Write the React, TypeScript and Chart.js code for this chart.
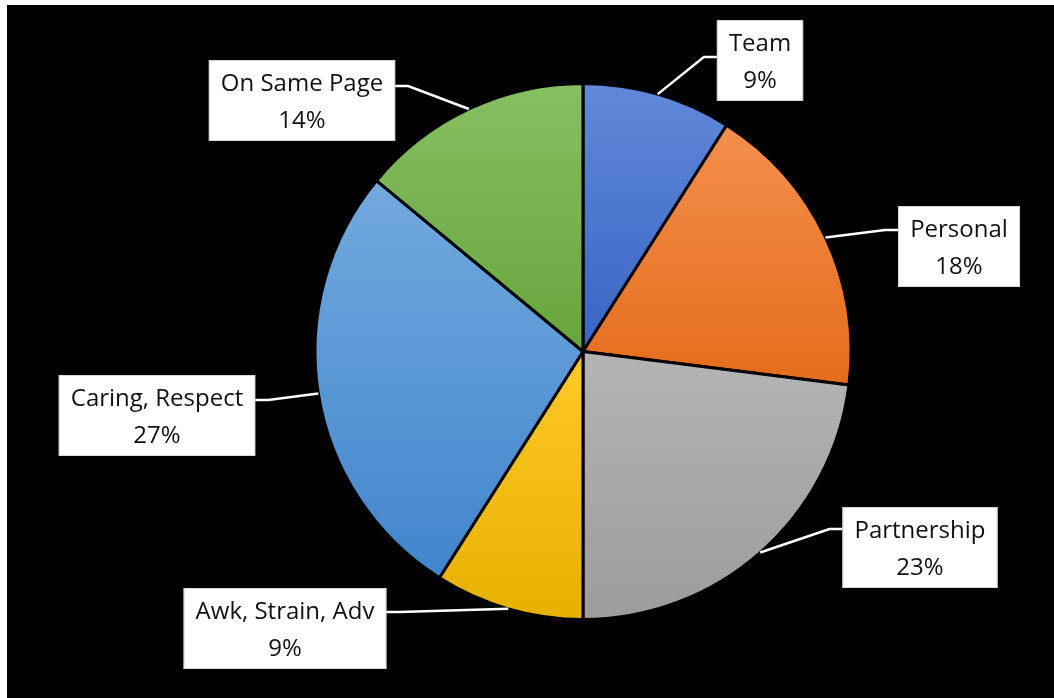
import React, { useEffect, useRef } from "react";
import { Chart, registerables } from "chart.js";

Chart.register(...registerables);

const categories = ["Team", "Personal", "Partnership", "Awk, Strain, Adv", "Caring, Respect", "On Same Page"];
const percentages = [9, 18, 23, 9, 27, 14];
const percentLabels = ["9%", "18%", "23%", "9%", "27%", "14%"];
const colorsTop = ["#6189d9", "#f48f4d", "#b4b4b4", "#ffc928", "#72a9de", "#86bf62"];
const colorsBottom = ["#3864c4", "#e46c1a", "#9c9c9c", "#e6b000", "#4285cd", "#66a63b"];

// label box centres relative to the pie centre (px) and where the leader meets the box (px from box top)
const labelLayout = [
  { dx: 177, dy: -291, attach: 37 },
  { dx: 376, dy: -105, attach: 24 },
  { dx: 337, dy: 196, attach: 22 },
  { dx: -298, dy: 277, attach: 24 },
  { dx: -426, dy: 64, attach: 25 },
  { dx: -281, dy: -251, attach: 26 },
];

const FONT = "24px 'Open Sans'";

const gradientPlugin = {
  id: "sliceGradient",
  beforeDatasetsDraw(chart: any) {
    const ctx = chart.ctx;
    const meta = chart.getDatasetMeta(0);
    meta.data.forEach((el: any, i: number) => {
      const { y, startAngle, endAngle, outerRadius } = el.getProps(["x", "y", "startAngle", "endAngle", "outerRadius"], true);
      let minY = y, maxY = y;
      const pts = [startAngle, endAngle];
      for (let k = -4; k <= 8; k++) {
        const a = (k * Math.PI) / 2;
        if (a > startAngle && a < endAngle) pts.push(a);
      }
      pts.forEach((a) => {
        const py = y + Math.sin(a) * outerRadius;
        minY = Math.min(minY, py);
        maxY = Math.max(maxY, py);
      });
      const g = ctx.createLinearGradient(0, minY, 0, maxY);
      g.addColorStop(0, colorsTop[i]);
      g.addColorStop(1, colorsBottom[i]);
      el.options.backgroundColor = g;
    });
  },
};

const labelPlugin = {
  id: "boxLabels",
  afterDatasetsDraw(chart: any) {
    const ctx = chart.ctx;
    const meta = chart.getDatasetMeta(0);
    ctx.save();
    ctx.font = FONT;
    meta.data.forEach((el: any, i: number) => {
      const { x, y, startAngle, endAngle, outerRadius } = el.getProps(["x", "y", "startAngle", "endAngle", "outerRadius"], true);
      const mid = (startAngle + endAngle) / 2;
      const ex = x + Math.cos(mid) * outerRadius;
      const ey = y + Math.sin(mid) * outerRadius;
      const lay = labelLayout[i];
      const cx = x + lay.dx;
      const cy = y + lay.dy;
      const l1 = categories[i];
      const l2 = percentLabels[i];
      const w = Math.max(ctx.measureText(l1).width, ctx.measureText(l2).width) + 24;
      const h = 81;
      const left = cx - w / 2;
      const top = cy - h / 2;
      const onRight = lay.dx > 0;
      const ax = onRight ? left : left + w;
      const ay = top + lay.attach;
      const sx = onRight ? ax - 13 : ax + 13;
      // leader
      ctx.strokeStyle = "#ffffff";
      ctx.lineWidth = 2.5;
      ctx.beginPath();
      ctx.moveTo(ax, ay);
      ctx.lineTo(sx, ay);
      ctx.lineTo(ex, ey);
      ctx.stroke();
      // box
      ctx.fillStyle = "#ffffff";
      ctx.fillRect(left, top, w, h);
      ctx.strokeStyle = "#d9d9d9";
      ctx.lineWidth = 1;
      ctx.strokeRect(left + 0.5, top + 0.5, w - 1, h - 1);
      // text
      ctx.fillStyle = "#111111";
      ctx.textAlign = "center";
      ctx.textBaseline = "alphabetic";
      ctx.fillText(l1, cx, cy - 10);
      ctx.fillText(l2, cx, cy + 27);
    });
    ctx.restore();
  },
};

export default function App() {
  const ref = useRef<HTMLCanvasElement | null>(null);
  useEffect(() => {
    if (!ref.current) return;
    const chart = new Chart(ref.current, {
      type: "pie",
      data: {
        labels: categories,
        datasets: [
          {
            data: percentages,
            backgroundColor: colorsBottom,
            borderColor: "#000000",
            borderWidth: 3,
          },
        ],
      },
      options: {
        animation: false,
        responsive: true,
        maintainAspectRatio: false,
        layout: { padding: { top: 77, bottom: 77, left: 105, right: 0 } },
        plugins: {
          legend: { display: false },
          tooltip: { enabled: false },
        },
      },
      plugins: [gradientPlugin, labelPlugin],
    });
    return () => chart.destroy();
  }, []);
  return (
    <div
      style={{
        position: "absolute",
        left: 7,
        top: 5,
        width: 1047,
        height: 693,
        background: "#000000",
      }}
    >
      <canvas ref={ref} />
    </div>
  );
}
